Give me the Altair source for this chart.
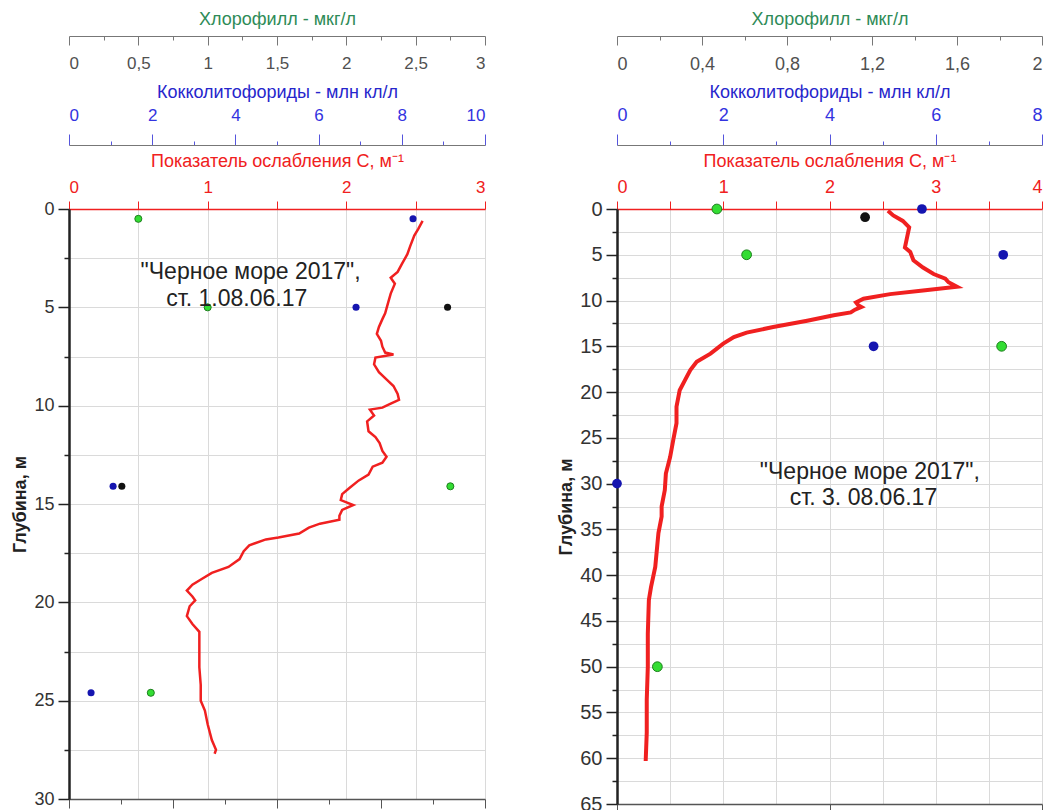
import altair as alt
import pandas as pd

# ---------------- Station 1 (left) ----------------
L_line_depth = [0.6, 1.0, 1.35, 1.9, 2.3, 2.8, 3.2, 3.5, 3.8, 4.3, 4.8, 5.3, 5.6, 6.0, 6.35, 6.7, 7.0, 7.3,
                7.4, 7.55, 7.9, 8.3, 8.7, 9.0, 9.4, 9.7, 9.9, 10.1, 10.2, 10.5, 10.8, 11.3, 11.6, 11.9, 12.3,
                12.6, 12.9, 13.1, 13.5, 13.8, 14.2, 14.5, 14.8, 15.05, 15.3, 15.6, 15.8, 16.0, 16.2, 16.5,
                16.7, 16.8, 17.1, 17.4, 17.8, 18.2, 18.5, 18.8, 19.1, 19.4, 19.7, 19.9, 20.2, 20.7, 21.1,
                21.5, 22.5, 23.3, 24.2, 25.0, 25.5, 26.2, 27.0, 27.5, 27.7]
L_line_C = [2.55, 2.52, 2.49, 2.46, 2.44, 2.40, 2.37, 2.32, 2.35, 2.32, 2.30, 2.28, 2.26, 2.235, 2.22, 2.25,
            2.26, 2.28, 2.34, 2.21, 2.20, 2.235, 2.295, 2.34, 2.37, 2.38, 2.32, 2.26, 2.17, 2.20, 2.15, 2.16,
            2.21, 2.24, 2.26, 2.29, 2.26, 2.19, 2.16, 2.09, 2.02, 1.97, 1.96, 2.05, 1.97, 1.95, 1.95, 1.81,
            1.73, 1.66, 1.51, 1.42, 1.30, 1.26, 1.23, 1.15, 1.03, 0.96, 0.89, 0.85, 0.89, 0.91, 0.87, 0.85,
            0.89, 0.94, 0.94, 0.94, 0.95, 0.95, 0.98, 1.00, 1.03, 1.06, 1.05]
L_chl_depth = [0.5, 5.0, 14.1, 24.6]
L_chl_val = [0.5, 1.0, 2.75, 0.59]
L_coc_depth = [0.5, 5.0, 14.1, 24.6]
L_coc_val = [8.27, 6.9, 1.06, 0.53]
L_blk_depth = [5.0, 14.1]
L_blk_val = [9.1, 1.27]
L_text = ['"Черное море 2017",', "ст. 1.08.06.17"]
L_text_C = [1.31, 1.21]
L_text_depth = [3.2, 4.6]

# ---------------- Station 3 (right) ----------------
R_line_depth = [0.2, 0.7, 1.3, 2.0, 3.1, 4.2, 4.7, 5.6, 6.4, 7.1, 7.6, 8.0, 8.5, 8.9, 9.3, 9.8, 10.2, 10.5,
                10.7, 11.0, 11.3, 11.6, 12.2, 12.9, 13.5, 14.0, 14.7, 15.8, 16.7, 17.6, 18.7, 19.8, 21.6,
                23.4, 25.2, 27.1, 28.9, 30.7, 32.5, 33.6, 35.4, 39.1, 41.3, 42.7, 46.4, 50.0, 53.6, 57.2, 60.3]
R_line_C = [2.55, 2.60, 2.69, 2.75, 2.73, 2.71, 2.76, 2.79, 2.88, 2.98, 3.09, 3.12, 3.20, 2.88, 2.57, 2.32,
            2.25, 2.27, 2.30, 2.24, 2.20, 2.04, 1.79, 1.47, 1.22, 1.10, 1.00, 0.88, 0.75, 0.69, 0.64, 0.59,
            0.56, 0.56, 0.53, 0.50, 0.46, 0.45, 0.42, 0.42, 0.39, 0.36, 0.32, 0.30, 0.29, 0.29, 0.28, 0.28, 0.27]
R_chl_depth = [0.0, 5.0, 15.0, 50.0]
R_chl_val = [0.47, 0.61, 1.81, 0.19]
R_coc_depth = [0.0, 5.0, 15.0, 30.0]
R_coc_val = [5.74, 7.27, 4.83, 0.0]
R_blk_depth = [0.9]
R_blk_val = [4.67]
R_text = ['"Черное море 2017",', "ст. 3.  08.06.17"]
R_text_C = [2.38, 2.32]
R_text_depth = [28.7, 31.6]

RED = "#f02020"
GRID = "#dadada"
FMT = ".2~f"


def near(step):
    return f"abs(round(datum.value / {step}) * {step} - datum.value) < 0.001"


def panel(line_depth, line_C, chl_depth, chl_val, coc_depth, coc_val, blk_depth, blk_val,
          texts, text_C, text_depth, c_max, c_vals, chl_max, chl_vals, chl_major, coc_max, coc_vals,
          coc_major, bot_max, bot_vals, bot_major, y_max, W, H, lw, ps, fs, tfs, yfs):
    y_vals = [v * 2.5 for v in range(int(y_max / 2.5) + 1)]
    Y = alt.Y("depth:Q",
              scale=alt.Scale(domain=[0, y_max], reverse=True, nice=False, zero=False),
              axis=alt.Axis(values=y_vals, format="~g",
                            labelExpr="datum.value % 5 == 0 ? datum.label : ''",
                            tickSize={"condition": {"test": "datum.value % 5 == 0", "value": 11}, "value": 5},
                            grid=True, gridColor=GRID, domainColor="#222", domainWidth=2.5,
                            tickColor="#222", tickWidth=1.5, labelFontSize=yfs, labelColor="#333",
                            labelPadding=4, title="Глубина, м", titleFontWeight="bold",
                            titleFontSize=18, titleColor="#222", titlePadding=4))

    df_line = pd.DataFrame({"depth": line_depth, "C": line_C})
    line = alt.Chart(df_line).mark_line(color=RED, strokeWidth=lw).encode(
        x=alt.X("C:Q", scale=alt.Scale(domain=[0, c_max], nice=False, zero=False),
                axis=alt.Axis(orient="top", values=c_vals, format=FMT,
                              labelExpr="datum.value % 1 == 0 ? datum.label : ''",
                              grid=True, gridColor=GRID, domainColor=RED, domainWidth=1.5,
                              tickColor=RED, tickSize=8, labelColor=RED, labelFontSize=fs,
                              labelPadding=5, title="Показатель ослабления С, м⁻¹",
                              titleColor=RED, titleFontSize=tfs, titleFontWeight="normal",
                              titlePadding=8)),
        y=Y,
        order="depth:Q",
    )

    df_g = pd.DataFrame({"depth": chl_depth, "chl": chl_val})
    green = alt.Chart(df_g).mark_circle(size=ps, fill="#33dd33", stroke="#1d7f1d",
                                        strokeWidth=1, opacity=1).encode(
        x=alt.X("chl:Q", scale=alt.Scale(domain=[0, chl_max], nice=False, zero=False),
                axis=alt.Axis(orient="bottom", offset=-(H + 173), values=chl_vals, format=FMT,
                              labelExpr=f"{near(chl_major)} ? replace(datum.label, '.', ',') : ''",
                              tickSize={"condition": {"test": near(chl_major), "value": 9}, "value": 4},
                              domainColor="#777", tickColor="#777", labelColor="#505050",
                              labelFontSize=fs, labelPadding=10, grid=False,
                              title="Хлорофилл - мкг/л", titleColor="#2e8b57", titleFontSize=tfs,
                              titleFontWeight="normal", titleY=-8, titleBaseline="bottom")),
        y=Y,
    )

    df_b = pd.DataFrame({"depth": coc_depth + blk_depth, "coc": coc_val + blk_val,
                         "kind": ["blue"] * len(coc_val) + ["black"] * len(blk_val)})
    coc = alt.Chart(df_b).mark_circle(size=ps, opacity=1).encode(
        x=alt.X("coc:Q", scale=alt.Scale(domain=[0, coc_max], nice=False, zero=False),
                axis=alt.Axis(orient="top", offset=64, values=coc_vals, format=FMT,
                              labelExpr=f"{near(coc_major)} ? datum.label : ''",
                              tickSize={"condition": {"test": near(coc_major), "value": 11}, "value": 4},
                              domainColor="#777", tickColor="#5555dd", labelColor="#3333e0",
                              labelFontSize=fs, labelPadding=10, grid=False,
                              title="Кокколитофориды - млн кл/л", titleColor="#2626cc",
                              titleFontSize=tfs, titleFontWeight="normal", titlePadding=5)),
        y=Y,
        color=alt.Color("kind:N", scale=alt.Scale(domain=["blue", "black"], range=["#1515b0", "#111111"]),
                        legend=None),
    )

    df_bot = pd.DataFrame({"depth": [0, 0], "v": [0, bot_max]})
    bottom = alt.Chart(df_bot).mark_point(opacity=0).encode(
        x=alt.X("v:Q", scale=alt.Scale(domain=[0, bot_max], nice=False, zero=False),
                axis=alt.Axis(orient="bottom", values=bot_vals, labels=False, grid=False,
                              domainColor="#555", domainWidth=1.5, tickColor="#555",
                              tickSize={"condition": {"test": near(bot_major), "value": 9}, "value": 5},
                              title=None)),
        y=Y,
    )

    df_t = pd.DataFrame({"depth": text_depth, "tx": text_C, "label": texts})
    text = alt.Chart(df_t).mark_text(fontSize=23, color="#222", align="center", baseline="middle").encode(
        x=alt.X("tx:Q", scale=alt.Scale(domain=[0, c_max], nice=False, zero=False), axis=None),
        y=Y,
        text="label:N",
    )

    return alt.layer(line, green, coc, bottom, text).resolve_scale(x="independent").properties(
        width=W, height=H)


left = panel(L_line_depth, L_line_C, L_chl_depth, L_chl_val, L_coc_depth, L_coc_val, L_blk_depth, L_blk_val,
             L_text, L_text_C, L_text_depth,
             c_max=3, c_vals=[0, 0.5, 1, 1.5, 2, 2.5, 3],
             chl_max=3, chl_vals=[0, 0.25, 0.5, 0.75, 1, 1.25, 1.5, 1.75, 2, 2.25, 2.5, 2.75, 3], chl_major=0.5,
             coc_max=10, coc_vals=[0, 1, 2, 3, 4, 5, 6, 7, 8, 9, 10], coc_major=2,
             bot_max=8, bot_vals=[0, 1, 2, 3, 4, 5, 6, 7, 8], bot_major=2,
             y_max=30, W=416, H=590, lw=2.5, ps=50, fs=17, tfs=18, yfs=18)

right = panel(R_line_depth, R_line_C, R_chl_depth, R_chl_val, R_coc_depth, R_coc_val, R_blk_depth, R_blk_val,
              R_text, R_text_C, R_text_depth,
              c_max=4, c_vals=[0, 0.5, 1, 1.5, 2, 2.5, 3, 3.5, 4],
              chl_max=2, chl_vals=[0, 0.2, 0.4, 0.6, 0.8, 1, 1.2, 1.4, 1.6, 1.8, 2], chl_major=0.4,
              coc_max=8, coc_vals=[0, 1, 2, 3, 4, 5, 6, 7, 8], coc_major=2,
              bot_max=2, bot_vals=[0, 1, 2], bot_major=1,
              y_max=65, W=425, H=595, lw=4, ps=95, fs=18, tfs=18, yfs=20)

chart = alt.hconcat(left, right, spacing=69).properties(
    padding={"left": 11, "top": 10, "right": 0, "bottom": 0}
).configure(font="Liberation Sans").configure_view(stroke=None)

chart.save("out.html", embed_options={"renderer": "svg", "actions": False})
